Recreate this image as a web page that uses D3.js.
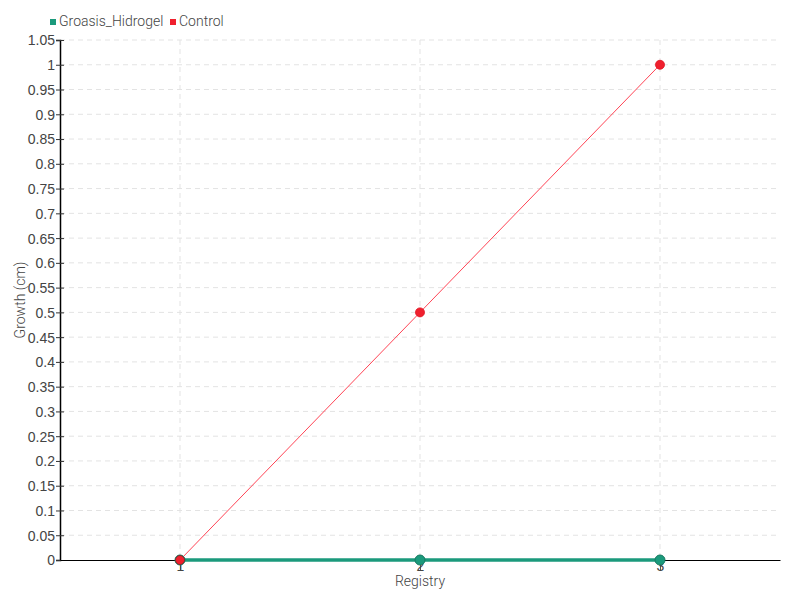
<!DOCTYPE html>
<html>
<head>
<meta charset="utf-8">
<script src="https://cdn.jsdelivr.net/npm/d3@7"></script>
<style>
  body { margin: 0; background: #fff; }
  svg { font-family: Roboto, "DejaVu Sans", sans-serif; font-weight: 300; }
  .grid line { stroke: #e3e3e3; stroke-dasharray: 5,4; }
  .tick text { fill: #444; font-size: 14px; }
</style>
</head>
<body>
<div id="chart"></div>
<script>
const registry = [1, 2, 3];
const seriesNames = ['Groasis_Hidrogel', 'Control'];
const groasis = [0, 0, 0];
const control = [0, 0.5, 1];
const yTicks = d3.range(0, 22).map(i => +(i * 0.05).toFixed(2));
const colors = { 'Groasis_Hidrogel': '#1b9a7c', 'Control': '#f0202e' };

const margin = { top: 40, right: 20, bottom: 40, left: 60 };
const width = 800 - margin.left - margin.right;
const height = 600 - margin.top - margin.bottom;

const svgRoot = d3.select('#chart').append('svg')
  .attr('width', 800).attr('height', 600);
const svg = svgRoot.append('g')
  .attr('transform', `translate(${margin.left}, ${margin.top})`);

const x = d3.scaleLinear().domain([0.5, 3.5]).range([0, width]);
const y = d3.scaleLinear().domain([0, 1.05]).range([height, 0]);

// grid
svg.append('g').attr('class', 'grid')
  .selectAll('line').data(yTicks.slice(1)).join('line')
  .attr('x1', 0).attr('x2', width)
  .attr('y1', d => y(d)).attr('y2', d => y(d));
svg.append('g').attr('class', 'grid')
  .selectAll('line').data(registry).join('line')
  .attr('x1', d => x(d)).attr('x2', d => x(d))
  .attr('y1', 0).attr('y2', height);

// axes
const yAxis = d3.axisLeft(y).tickValues(yTicks).tickFormat(d => d3.format('')(d)).tickSize(4);
const yG = svg.append('g').call(yAxis);
yG.select('.domain').attr('stroke', '#000').attr('stroke-width', 1.5);
yG.selectAll('.tick line').attr('x2', 4).attr('x1', -4).attr('stroke', '#333');
yG.selectAll('.tick text').attr('x', -5).attr('dy', '0.35em');

const xAxis = d3.axisBottom(x).tickValues(registry).tickFormat(d3.format('d')).tickSize(10).tickSizeOuter(0);
const xG = svg.append('g').attr('transform', `translate(0, ${height})`).call(xAxis);
xG.select('.domain').attr('stroke', '#000').attr('stroke-width', 1.2);
xG.selectAll('.tick line').attr('stroke', '#555');
xG.selectAll('.tick text').attr('y', 1).attr('dy', '0.71em');

// axis labels
svg.append('text').attr('x', x(2)).attr('y', height + 26)
  .attr('text-anchor', 'middle').attr('fill', '#444').style('font-size', '14px').text('Registry');
svg.append('text').attr('transform', `translate(${-35}, ${height / 2}) rotate(-90)`)
  .attr('text-anchor', 'middle').attr('fill', '#444').style('font-size', '14px').text('Growth (cm)');

// lines
const line = d3.line().x((d, i) => x(registry[i])).y(d => y(d));
svg.append('path').datum(control)
  .attr('fill', 'none').attr('stroke', '#ff4455').attr('stroke-width', 1).attr('d', line);
svg.append('path').datum(groasis)
  .attr('fill', 'none').attr('stroke', colors['Groasis_Hidrogel']).attr('stroke-width', 3.5).attr('d', line);

svg.append('g').selectAll('circle').data(groasis).join('circle')
  .attr('cx', (d, i) => x(registry[i])).attr('cy', d => y(d)).attr('r', 5)
  .attr('fill', colors['Groasis_Hidrogel']).attr('stroke', '#187a62').attr('stroke-width', 1);
svg.append('g').selectAll('circle').data(control).join('circle')
  .attr('cx', (d, i) => x(registry[i])).attr('cy', d => y(d)).attr('r', 4.5)
  .attr('fill', colors['Control']).attr('stroke-width', 0.8)
  .attr('stroke', (d, i) => i === 0 ? '#7a2a2a' : '#e01020');

// legend
const legend = svgRoot.append('g');
const legendX = [50, 170];
seriesNames.forEach((name, i) => {
  legend.append('rect').attr('x', legendX[i]).attr('y', 19).attr('width', 6).attr('height', 6)
    .attr('fill', colors[name]);
  legend.append('text').attr('x', legendX[i] + 9).attr('y', 26)
    .attr('fill', '#444').style('font-size', '14px').text(name);
});
</script>
</body>
</html>
